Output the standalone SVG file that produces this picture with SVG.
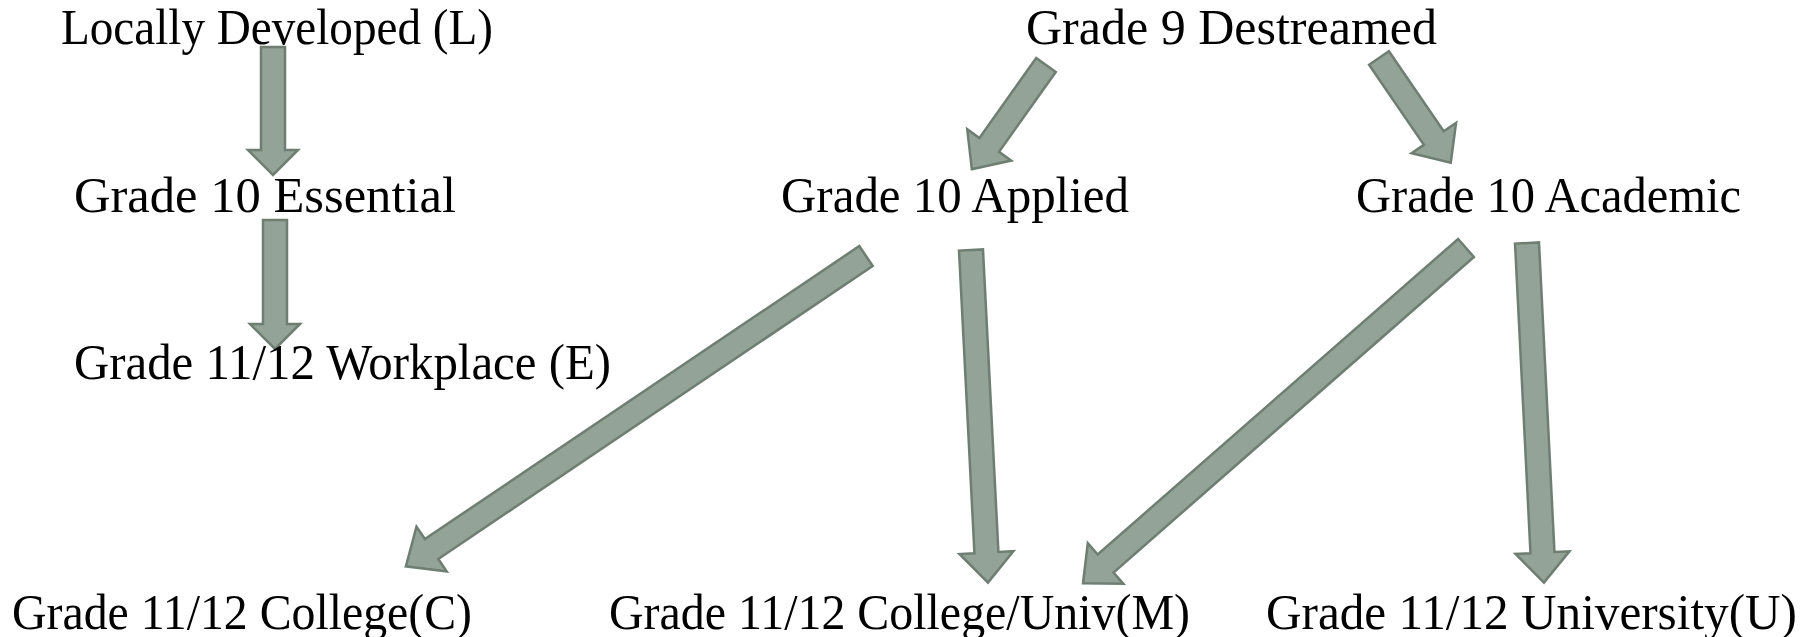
<svg xmlns="http://www.w3.org/2000/svg" width="1810" height="637" viewBox="0 0 1810 637">
<style>
text{font-family:"Liberation Serif","Times New Roman",serif;font-size:50px;fill:#000}
.arr{fill:#93A398;stroke:#6E7E72;stroke-width:2.5;stroke-linejoin:miter}
</style>
<rect width="1810" height="637" fill="#fff"/>
<g id="connectors">
<polygon class="arr" transform="translate(273,47) rotate(90)" points="0,-12 103,-12 103,-25 128,0 103,25 103,12 0,12"/>
<polygon class="arr" transform="translate(275,220) rotate(90)" points="0,-12 104,-12 104,-25 129,0 104,25 104,12 0,12"/>
<polygon class="arr" transform="translate(1046,65) rotate(125.4)" points="0,-12 98,-12 98,-27 128,0 98,27 98,12 0,12"/>
<polygon class="arr" transform="translate(1379,58) rotate(55.6)" points="0,-12 97,-12 97,-27 127,0 97,27 97,12 0,12"/>
<polygon class="arr" transform="translate(866,256) rotate(146)" points="0,-12 524,-12 524,-27 555,0 524,27 524,12 0,12"/>
<polygon class="arr" transform="translate(971,250) rotate(87.08)" points="0,-12 303,-12 303,-27 333,0 303,27 303,12 0,12"/>
<polygon class="arr" transform="translate(1466,248) rotate(138.8)" points="0,-12 479,-12 479,-27 509,0 479,27 479,12 0,12"/>
<polygon class="arr" transform="translate(1527,243) rotate(87.14)" points="0,-12 310,-12 310,-27 340,0 310,27 310,12 0,12"/>
</g>
<g id="n-locally"><text x="61" y="44" textLength="432" lengthAdjust="spacingAndGlyphs">Locally Developed (L)</text></g>
<g id="n-g9"><text x="1026" y="44" textLength="411" lengthAdjust="spacingAndGlyphs">Grade 9 Destreamed</text></g>
<g id="n-essential"><text x="74" y="212" textLength="382" lengthAdjust="spacingAndGlyphs">Grade 10 Essential</text></g>
<g id="n-applied"><text x="781" y="212" textLength="348" lengthAdjust="spacingAndGlyphs">Grade 10 Applied</text></g>
<g id="n-academic"><text x="1356" y="212" textLength="385" lengthAdjust="spacingAndGlyphs">Grade 10 Academic</text></g>
<g id="n-workplace"><text x="74" y="379" textLength="537" lengthAdjust="spacingAndGlyphs">Grade 11/12 Workplace (E)</text></g>
<g id="n-college"><text x="12" y="629" textLength="460" lengthAdjust="spacingAndGlyphs">Grade 11/12 College(C)</text></g>
<g id="n-collegeuniv"><text x="609" y="629" textLength="581" lengthAdjust="spacingAndGlyphs">Grade 11/12 College/Univ(M)</text></g>
<g id="n-university"><text x="1266" y="629" textLength="531" lengthAdjust="spacingAndGlyphs">Grade 11/12 University(U)</text></g>
</svg>
